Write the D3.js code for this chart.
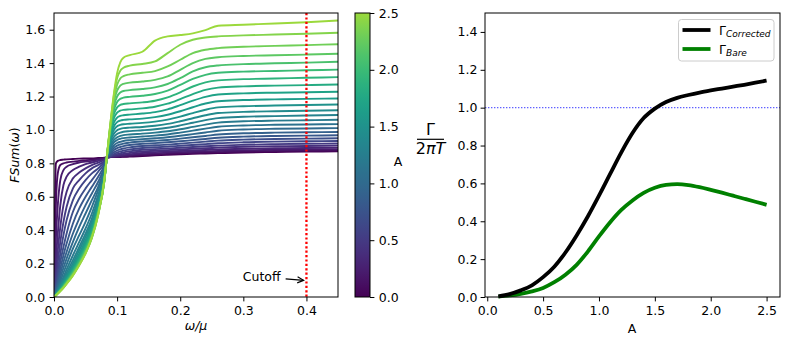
<!DOCTYPE html>
<html><head><meta charset="utf-8">
<script src="https://cdn.jsdelivr.net/npm/d3@7"></script>
<style>
body{margin:0;background:#fff}
svg{display:block}
text{font-family:"DejaVu Sans",sans-serif;fill:#000}
</style>
</head><body>
<svg id="c" width="789" height="346"></svg>
<script>
// ---------- DATA ----------
// Left panel: omega/mu grid and FSum(omega) curves for each A
const omegaGrid = [0, 0.003, 0.006, 0.01, 0.015, 0.02, 0.03, 0.04, 0.05, 0.06, 0.07, 0.08, 0.084,
  0.09, 0.095, 0.1, 0.105, 0.11, 0.12, 0.14, 0.16, 0.18, 0.2, 0.22, 0.24, 0.26, 0.3, 0.35, 0.4, 0.45];
const aLevels = [0.0,0.1,0.2,0.3,0.4,0.5,0.6,0.7,0.8,0.9,1.0,1.1,1.2,1.3,1.4,1.5,1.6,1.7,1.8,1.9,2.0,2.1,2.2,2.3,2.4,2.5];
const fsumCurves = [
 [0,0.80,0.815,0.82,0.822,0.824,0.826,0.828,0.829,0.830,0.832,0.834,0.836, 0.837,0.837,0.838,0.838,0.839,0.84,0.844,0.848,0.851,0.854,0.857,0.859,0.861,0.865,0.868,0.87,0.872],
 [0,0.55,0.74,0.79,0.80,0.805,0.81,0.815,0.818,0.822,0.826,0.83,0.835, 0.837,0.838,0.839,0.84,0.841,0.843,0.849,0.853,0.857,0.86,0.862,0.865,0.867,0.871,0.874,0.876,0.878],
 [0,0.35,0.55,0.70,0.76,0.78,0.795,0.805,0.81,0.815,0.822,0.83,0.835, 0.838,0.839,0.84,0.842,0.844,0.848,0.855,0.86,0.864,0.867,0.869,0.872,0.874,0.878,0.881,0.883,0.885],
 [0,0.22,0.38,0.55,0.67,0.72,0.76,0.78,0.795,0.805,0.815,0.826,0.835, 0.839,0.841,0.843,0.846,0.849,0.854,0.862,0.867,0.871,0.874,0.877,0.88,0.883,0.887,0.89,0.892,0.894],
 [0,0.15,0.28,0.42,0.55,0.63,0.71,0.745,0.77,0.79,0.805,0.822,0.834, 0.84,0.844,0.848,0.852,0.856,0.862,0.871,0.875,0.879,0.883,0.887,0.89,0.894,0.899,0.902,0.904,0.906],
 [0,0.11,0.21,0.33,0.45,0.54,0.65,0.70,0.74,0.77,0.79,0.815,0.834, 0.842,0.849,0.855,0.86,0.865,0.872,0.881,0.885,0.889,0.893,0.898,0.902,0.906,0.911,0.915,0.917,0.919],
 [0,0.08,0.16,0.26,0.37,0.46,0.58,0.65,0.70,0.74,0.77,0.81,0.834, 0.845,0.856,0.865,0.871,0.876,0.883,0.892,0.896,0.9,0.905,0.91,0.915,0.92,0.926,0.93,0.932,0.934],
 [0,0.06,0.12,0.21,0.30,0.38,0.51,0.59,0.65,0.70,0.75,0.80,0.834, 0.85,0.866,0.877,0.884,0.889,0.896,0.904,0.908,0.912,0.918,0.924,0.93,0.936,0.942,0.946,0.948,0.95],
 [0,0.05,0.10,0.17,0.25,0.32,0.44,0.53,0.60,0.66,0.72,0.79,0.834, 0.858,0.879,0.891,0.898,0.903,0.91,0.917,0.921,0.926,0.932,0.939,0.946,0.953,0.96,0.964,0.966,0.968],
 [0,0.04,0.08,0.14,0.21,0.27,0.38,0.47,0.55,0.62,0.69,0.78,0.834, 0.868,0.893,0.906,0.913,0.918,0.924,0.931,0.935,0.94,0.948,0.956,0.964,0.973,0.98,0.984,0.986,0.988],
 [0,0.03,0.065,0.115,0.175,0.23,0.33,0.42,0.50,0.58,0.66,0.77,0.836, 0.88,0.908,0.922,0.929,0.934,0.939,0.945,0.95,0.956,0.965,0.975,0.985,0.995,1.003,1.007,1.009,1.011],
 [0,0.025,0.055,0.095,0.145,0.195,0.29,0.37,0.45,0.54,0.64,0.76,0.838, 0.895,0.925,0.94,0.947,0.951,0.955,0.961,0.966,0.973,0.984,0.996,1.008,1.019,1.027,1.031,1.033,1.035],
 [0,0.02,0.045,0.08,0.12,0.165,0.25,0.33,0.41,0.50,0.61,0.75,0.84, 0.91,0.94,0.956,0.964,0.969,0.973,0.978,0.984,0.992,1.004,1.018,1.032,1.044,1.052,1.056,1.058,1.061],
 [0,0.018,0.04,0.07,0.105,0.145,0.22,0.30,0.38,0.47,0.59,0.74,0.84, 0.925,0.958,0.976,0.984,0.989,0.993,0.998,1.004,1.013,1.027,1.043,1.059,1.071,1.079,1.083,1.086,1.089],
 [0,0.016,0.035,0.062,0.095,0.13,0.20,0.28,0.36,0.45,0.57,0.73,0.84, 0.94,0.978,0.998,1.006,1.011,1.014,1.018,1.025,1.036,1.052,1.07,1.088,1.101,1.108,1.112,1.115,1.118],
 [0,0.015,0.032,0.056,0.087,0.12,0.185,0.26,0.34,0.43,0.555,0.725,0.842, 0.955,1.0,1.022,1.03,1.034,1.037,1.042,1.05,1.062,1.08,1.101,1.121,1.135,1.142,1.146,1.149,1.152],
 [0,0.014,0.03,0.052,0.08,0.11,0.175,0.245,0.325,0.415,0.54,0.72,0.842, 0.97,1.022,1.047,1.056,1.06,1.063,1.068,1.077,1.091,1.112,1.136,1.158,1.172,1.179,1.183,1.186,1.188],
 [0,0.013,0.028,0.048,0.075,0.104,0.165,0.235,0.31,0.40,0.53,0.715,0.843, 0.985,1.045,1.074,1.084,1.088,1.092,1.098,1.107,1.123,1.148,1.175,1.198,1.212,1.219,1.223,1.226,1.229],
 [0,0.012,0.026,0.045,0.07,0.098,0.158,0.225,0.30,0.39,0.52,0.71,0.844, 1.0,1.07,1.103,1.115,1.12,1.123,1.129,1.139,1.157,1.185,1.215,1.24,1.253,1.261,1.265,1.268,1.272],
 [0,0.012,0.025,0.043,0.067,0.094,0.152,0.217,0.29,0.38,0.515,0.705,0.845, 1.01,1.095,1.135,1.15,1.155,1.159,1.165,1.175,1.195,1.225,1.26,1.285,1.297,1.304,1.308,1.312,1.316],
 [0,0.011,0.024,0.041,0.064,0.09,0.146,0.21,0.283,0.372,0.51,0.70,0.846, 1.02,1.12,1.167,1.186,1.193,1.198,1.205,1.215,1.235,1.27,1.305,1.33,1.342,1.349,1.353,1.357,1.361],
 [0,0.011,0.023,0.039,0.061,0.087,0.141,0.204,0.276,0.366,0.505,0.70,0.847, 1.03,1.145,1.20,1.224,1.233,1.238,1.245,1.255,1.275,1.31,1.35,1.375,1.386,1.394,1.399,1.403,1.408],
 [0,0.010,0.022,0.038,0.059,0.084,0.137,0.199,0.27,0.36,0.50,0.70,0.848, 1.04,1.17,1.235,1.265,1.276,1.283,1.29,1.30,1.32,1.36,1.40,1.425,1.435,1.443,1.447,1.451,1.456],
 [0,0.010,0.021,0.037,0.057,0.082,0.134,0.195,0.265,0.355,0.495,0.70,0.849, 1.05,1.19,1.27,1.308,1.322,1.333,1.342,1.352,1.38,1.42,1.46,1.48,1.49,1.498,1.503,1.508,1.513],
 [0,0.010,0.021,0.036,0.056,0.080,0.131,0.192,0.262,0.352,0.492,0.705,0.85, 1.06,1.21,1.31,1.355,1.372,1.385,1.395,1.41,1.46,1.51,1.54,1.553,1.56,1.566,1.571,1.576,1.582],
 [0,0.010,0.020,0.035,0.055,0.078,0.128,0.19,0.26,0.36,0.49,0.71,0.85, 1.06,1.22,1.34,1.405,1.432,1.448,1.468,1.535,1.56,1.568,1.578,1.597,1.624,1.63,1.637,1.645,1.655]
];
const leftXTicks = [0.0,0.1,0.2,0.3,0.4];
const leftYTicks = [0.0,0.2,0.4,0.6,0.8,1.0,1.2,1.4,1.6];
const cbarTicks = [0.0,0.5,1.0,1.5,2.0,2.5];
const cutoffOmega = 0.4;

// Right panel: Gamma/(2 pi T) vs A
const aGrid = [0.1,0.2,0.3,0.4,0.5,0.6,0.7,0.8,0.9,1.0,1.1,1.2,1.3,1.4,1.5,1.6,1.7,1.8,1.9,2.0,2.1,2.2,2.3,2.4,2.5];
const gammaCorrected = [0.003,0.015,0.035,0.062,0.105,0.16,0.235,0.325,0.425,0.535,0.65,0.764,0.866,0.945,0.995,1.03,1.052,1.067,1.08,1.091,1.101,1.111,1.121,1.132,1.143];
const gammaBare = [0.002,0.008,0.017,0.03,0.048,0.078,0.118,0.17,0.24,0.32,0.395,0.46,0.51,0.55,0.577,0.592,0.596,0.591,0.58,0.566,0.551,0.535,0.519,0.503,0.487];
const rightXTicks = [0.0,0.5,1.0,1.5,2.0,2.5];
const rightYTicks = [0.0,0.2,0.4,0.6,0.8,1.0,1.2,1.4];
const refLevel = 1.0;

// ---------- DRAW ----------
const svg = d3.select("#c");
const FS = 12.5, TICK = 4.4;
const fmt = d3.format(".1f");
const cmapMax = 0.85;
const color = a => d3.interpolateViridis((a/2.5)*cmapMax);

function styleAxis(g){
  g.select(".domain").remove();
  g.selectAll(".tick line").attr("stroke","#000").attr("stroke-width",1);
  g.selectAll(".tick text").attr("font-size",FS).attr("font-family","DejaVu Sans").attr("fill","#000");
}

// Left panel
const L = {x0:54, x1:338, y0:13, y1:297};
const xL = d3.scaleLinear().domain([0,0.45]).range([L.x0,L.x1]);
const yL = d3.scaleLinear().domain([0,1.7]).range([L.y1,L.y0]);

svg.append("defs").append("clipPath").attr("id","clipL")
  .append("rect").attr("x",L.x0).attr("y",L.y0).attr("width",L.x1-L.x0).attr("height",L.y1-L.y0);

const lineL = d3.line().x(d=>xL(d[0])).y(d=>yL(d[1])).curve(d3.curveMonotoneX);
const gL = svg.append("g").attr("clip-path","url(#clipL)");
fsumCurves.forEach((vals,i)=>{
  gL.append("path")
    .attr("d", lineL(omegaGrid.map((w,j)=>[w,vals[j]])))
    .attr("fill","none").attr("stroke",color(aLevels[i])).attr("stroke-width",1.9)
    .attr("stroke-linejoin","round");
});
// cutoff line
gL.append("line").attr("x1",xL(cutoffOmega)).attr("x2",xL(cutoffOmega))
  .attr("y1",L.y0).attr("y2",L.y1).attr("stroke","red").attr("stroke-width",2.3)
  .attr("stroke-dasharray","2.2,2.2");

svg.append("rect").attr("x",L.x0).attr("y",L.y0).attr("width",L.x1-L.x0).attr("height",L.y1-L.y0)
  .attr("fill","none").attr("stroke","#000").attr("stroke-width",1);

svg.append("g").attr("transform",`translate(0,${L.y1})`)
  .call(d3.axisBottom(xL).tickValues(leftXTicks).tickFormat(fmt).tickSize(TICK).tickPadding(4.6)).call(styleAxis);
svg.append("g").attr("transform",`translate(${L.x0},0)`)
  .call(d3.axisLeft(yL).tickValues(leftYTicks).tickFormat(fmt).tickSize(TICK).tickPadding(4.4)).call(styleAxis);

// annotation
const tipX = xL(0.3955), tipY = yL(0.1);
svg.append("text").attr("x", xL(0.359)).attr("y", tipY+1).attr("text-anchor","end")
  .attr("font-size",FS).text("Cutoff");
svg.append("path").attr("d",`M${xL(0.367)},${tipY-1.5} L${tipX},${tipY}`)
  .attr("stroke","#000").attr("stroke-width",1.2).attr("fill","none");
svg.append("path").attr("d",`M${tipX-6},${tipY-3.5} L${tipX},${tipY} L${tipX-6.4},${tipY+2.6}`)
  .attr("stroke","#000").attr("stroke-width",1.2).attr("fill","none");

// labels
svg.append("text").attr("x",196).attr("y",330).attr("text-anchor","middle").attr("font-size",FS)
  .attr("font-style","italic").text("ω/μ");
const yl = svg.append("text").attr("transform","translate(19,155) rotate(-90)").attr("text-anchor","middle").attr("font-size",FS);
yl.append("tspan").attr("font-style","italic").text("FSum");
yl.append("tspan").text("(");
yl.append("tspan").attr("font-style","italic").text("ω");
yl.append("tspan").text(")");

// Colorbar
const C = {x0:355, x1:370, y0:13, y1:297};
const yC = d3.scaleLinear().domain([0,2.5]).range([C.y1,C.y0]);
const grad = svg.select("defs").append("linearGradient").attr("id","vir")
  .attr("x1",0).attr("y1",1).attr("x2",0).attr("y2",0);
d3.range(0,1.0001,0.05).forEach(t=>{
  grad.append("stop").attr("offset",t).attr("stop-color",d3.interpolateViridis(t*cmapMax));
});
svg.append("rect").attr("x",C.x0).attr("y",C.y0).attr("width",C.x1-C.x0).attr("height",C.y1-C.y0)
  .attr("fill","url(#vir)").attr("stroke","#000").attr("stroke-width",1);
svg.append("g").attr("transform",`translate(${C.x1},0)`)
  .call(d3.axisRight(yC).tickValues(cbarTicks).tickFormat(fmt).tickSize(TICK).tickPadding(4.4)).call(styleAxis);
svg.append("text").attr("x",398).attr("y",166).attr("text-anchor","middle").attr("font-size",FS).text("A");

// Right panel
const R = {x0:485, x1:780, y0:13, y1:297};
const xR = d3.scaleLinear().domain([-0.02,2.62]).range([R.x0,R.x1]);
const yR = d3.scaleLinear().domain([0,1.5]).range([R.y1,R.y0]);

svg.append("line").attr("x1",R.x0).attr("x2",R.x1).attr("y1",yR(refLevel)).attr("y2",yR(refLevel))
  .attr("stroke","#3a3aff").attr("stroke-opacity",0.8).attr("stroke-width",1.1).attr("stroke-dasharray","1.4,1.6");

const lineR = d3.line().x(d=>xR(d[0])).y(d=>yR(d[1])).curve(d3.curveMonotoneX);
svg.append("path").attr("d",lineR(aGrid.map((a,i)=>[a,gammaBare[i]])))
  .attr("fill","none").attr("stroke","green").attr("stroke-width",3.8).attr("stroke-linejoin","round");
svg.append("path").attr("d",lineR(aGrid.map((a,i)=>[a,gammaCorrected[i]])))
  .attr("fill","none").attr("stroke","#000").attr("stroke-width",3.8).attr("stroke-linejoin","round");

svg.append("rect").attr("x",R.x0).attr("y",R.y0).attr("width",R.x1-R.x0).attr("height",R.y1-R.y0)
  .attr("fill","none").attr("stroke","#000").attr("stroke-width",1);
svg.append("g").attr("transform",`translate(0,${R.y1})`)
  .call(d3.axisBottom(xR).tickValues(rightXTicks).tickFormat(fmt).tickSize(TICK).tickPadding(4.6)).call(styleAxis);
svg.append("g").attr("transform",`translate(${R.x0},0)`)
  .call(d3.axisLeft(yR).tickValues(rightYTicks).tickFormat(fmt).tickSize(TICK).tickPadding(3.2)).call(styleAxis);

svg.append("text").attr("x",632).attr("y",333).attr("text-anchor","middle").attr("font-size",FS).text("A");

// fraction y-label
svg.append("text").attr("x",430.5).attr("y",135).attr("text-anchor","middle").attr("font-size",16).text("Γ");
svg.append("line").attr("x1",417).attr("x2",444).attr("y1",139.3).attr("y2",139.3).attr("stroke","#000").attr("stroke-width",1.2);
const den = svg.append("text").attr("x",430.5).attr("y",153.5).attr("text-anchor","middle").attr("font-size",16);
den.append("tspan").text("2");
den.append("tspan").attr("font-style","italic").text("πT");

// legend
const lg = svg.append("g");
lg.append("rect").attr("x",678.5).attr("y",19.5).attr("width",95.5).attr("height",41.5).attr("rx",3)
  .attr("fill","#fff").attr("fill-opacity",0.8).attr("stroke","#cccccc").attr("stroke-width",1);
const entries = [{c:"#000", sub:"Corrected", y:30},{c:"green", sub:"Bare", y:49}];
entries.forEach(e=>{
  lg.append("line").attr("x1",682.5).attr("x2",710.5).attr("y1",e.y).attr("y2",e.y)
    .attr("stroke",e.c).attr("stroke-width",3.8);
  const t = lg.append("text").attr("x",719).attr("y",e.y+4.5).attr("font-size",FS);
  t.append("tspan").text("Γ");
  t.append("tspan").attr("font-size",9).attr("font-style","italic").attr("dy",2.5).text(e.sub);
});
</script>
</body></html>
